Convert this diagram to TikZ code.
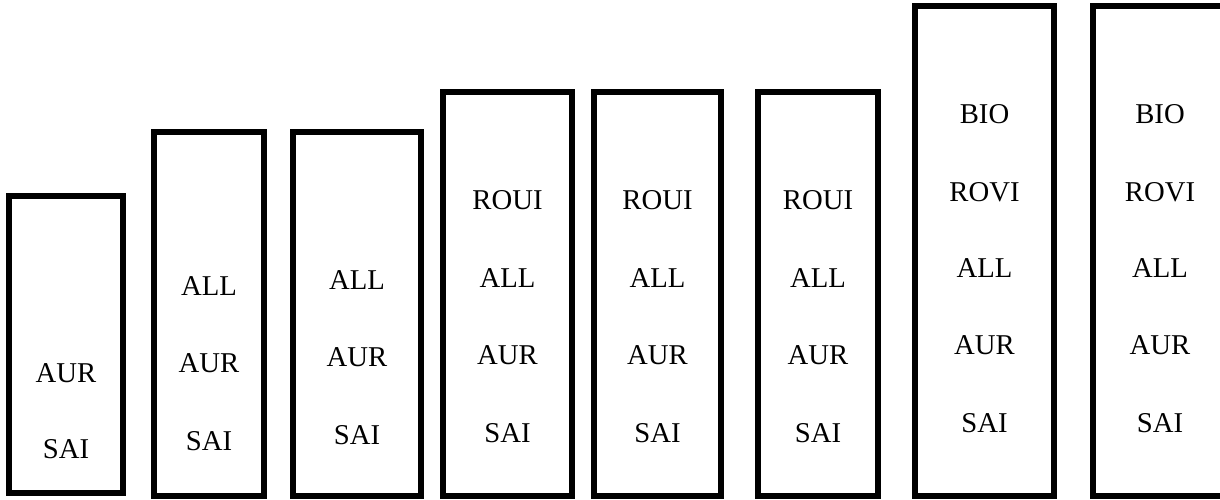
\documentclass[tikz,border=0pt]{standalone}
\usepackage{fontspec}
\setmainfont{Liberation Serif}
\begin{document}
\begin{tikzpicture}[x=1pt,y=-1pt,
  boxshape/.style={draw=black,line width=6pt,rectangle,inner sep=0pt,outer sep=0pt,fill=none},
  lbl/.style={anchor=base,inner sep=0pt,font=\fontsize{28.7}{34}\selectfont}]
\useasboundingbox (0,0) rectangle (1220,500);
\clip (0,0) rectangle (1220,500);
% boxes: centre x, centre y, width, height (centre-line)
\node[boxshape,minimum width=114pt,minimum height=297pt] (b1) at (66,344.5) {};
\node[boxshape,minimum width=110pt,minimum height=364pt] (b2) at (209,314) {};
\node[boxshape,minimum width=128pt,minimum height=364pt] (b3) at (357,314) {};
\node[boxshape,minimum width=129pt,minimum height=404pt] (b4) at (507.5,294) {};
\node[boxshape,minimum width=127pt,minimum height=404pt] (b5) at (657.5,294) {};
\node[boxshape,minimum width=120pt,minimum height=404pt] (b6) at (818,294) {};
\node[boxshape,minimum width=139pt,minimum height=490pt] (b7) at (984.5,251) {};
\node[boxshape,minimum width=134pt,minimum height=490pt] (b8) at (1160,251) {};
% box 1
\node[lbl] (t1a) at (66,382) {AUR};
\node[lbl] (t1b) at (66,458.5) {SAI};
% box 2
\node[lbl] (t2a) at (209,295.5) {ALL};
\node[lbl] (t2b) at (209,372.5) {AUR};
\node[lbl] (t2c) at (209,450.5) {SAI};
% box 3
\node[lbl] (t3a) at (357,289.5) {ALL};
\node[lbl] (t3b) at (357,366.5) {AUR};
\node[lbl] (t3c) at (357,444.5) {SAI};
% boxes 4-6
\foreach \n/\cx in {4/507.5,5/657.5,6/818}{
  \node[lbl] (t\n a) at (\cx,209.5) {ROUI};
  \node[lbl] (t\n b) at (\cx,287.5) {ALL};
  \node[lbl] (t\n c) at (\cx,364.5) {AUR};
  \node[lbl] (t\n d) at (\cx,442.5) {SAI};
}
% boxes 7-8
\foreach \n/\cx in {7/984.5,8/1160}{
  \node[lbl] (t\n a) at (\cx,123.5) {BIO};
  \node[lbl] (t\n b) at (\cx,201) {ROVI};
  \node[lbl] (t\n c) at (\cx,277.5) {ALL};
  \node[lbl] (t\n d) at (\cx,354.5) {AUR};
  \node[lbl] (t\n e) at (\cx,432) {SAI};
}
\end{tikzpicture}
\end{document}
